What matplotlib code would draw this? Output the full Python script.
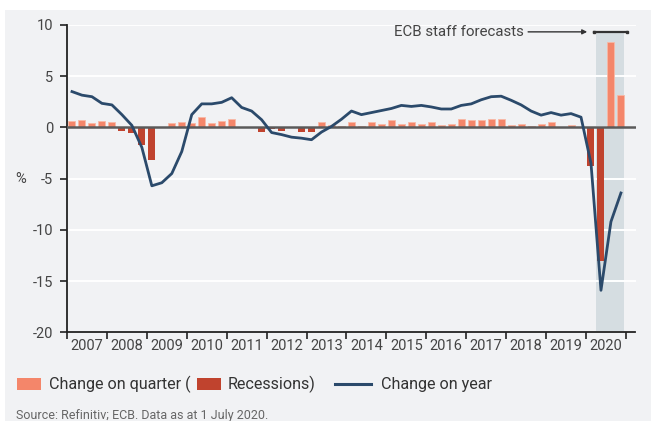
import matplotlib
matplotlib.use("Agg")
import matplotlib.pyplot as plt
from matplotlib.patches import Rectangle
from matplotlib.lines import Line2D
import numpy as np

plt.rcParams['font.family'] = ['Roboto', 'DejaVu Sans']

# ---------------- data ----------------
years = list(range(2007, 2021))
year_labels = [str(y) for y in years]

# quarter-on-quarter change (%), 2007Q1 .. 2020Q4
qoq = [0.6, 0.7, 0.4, 0.6,
       0.5, -0.3, -0.5, -1.7,
       -3.2, -0.05, 0.4, 0.5,
       0.4, 1.0, 0.4, 0.6,
       0.8, 0.0, 0.05, -0.4,
       -0.2, -0.3, -0.1, -0.4,
       -0.4, 0.5, 0.25, 0.15,
       0.5, 0.15, 0.5, 0.35,
       0.7, 0.35, 0.5, 0.35,
       0.55, 0.25, 0.35, 0.8,
       0.7, 0.7, 0.8, 0.8,
       0.25, 0.35, 0.15, 0.35,
       0.5, 0.05, 0.25, 0.02,
       -3.8, -13.0, 8.3, 3.2]

# recession flags per quarter
recession = [0, 0, 0, 0,
             0, 1, 1, 1,
             1, 1, 0, 0,
             0, 0, 0, 0,
             0, 0, 1, 1,
             1, 1, 1, 1,
             1, 0, 0, 0,
             0, 0, 0, 0,
             0, 0, 0, 0,
             0, 0, 0, 0,
             0, 0, 0, 0,
             0, 0, 0, 0,
             0, 0, 0, 0,
             1, 1, 0, 0]

# year-on-year change (%)
yoy = [3.5, 3.15, 3.0, 2.35,
       2.2, 1.25, 0.2, -1.95,
       -5.7, -5.4, -4.5, -2.35,
       1.25, 2.3, 2.3, 2.45,
       2.9, 1.95, 1.6, 0.75,
       -0.5, -0.7, -0.95, -1.05,
       -1.2, -0.45, 0.1, 0.8,
       1.6, 1.25, 1.45, 1.65,
       1.85, 2.15, 2.05, 2.15,
       2.0, 1.8, 1.8, 2.15,
       2.3, 2.7, 3.0, 3.05,
       2.65, 2.2, 1.6, 1.2,
       1.45, 1.2, 1.35, 1.0,
       -3.5, -15.9, -9.2, -6.4]

forecast_start, forecast_end = 2020.25, 2020.95

# ---------------- style ----------------
BG = '#f1f2f4'
LIGHT = '#f4866a'
DARK = '#c0432e'
LINE = '#2b4a6b'
SHADE = '#d5dde1'
TXT = '#444444'

W, H = 651, 421
fig = plt.figure(figsize=(W / 100, H / 100), dpi=100)
fig.patch.set_facecolor('white')
fig.patches.append(Rectangle((5 / W, 0), 1 - 5 / W, 1 - 10 / H,
                             transform=fig.transFigure, facecolor=BG,
                             edgecolor='none', zorder=-10))

ax = fig.add_axes([67 / W, 1 - 332.3 / H, (635.5 - 67) / W, (332.3 - 25) / H])
ax.set_facecolor(BG)

x = np.array([years[0] + 0.125 + 0.25 * i for i in range(len(qoq))])
colors = [DARK if r else LIGHT for r in recession]
edges = ['none' if r else '#f8b9a6' for r in recession]

# forecast shading
ax.axvspan(forecast_start, forecast_end, ymin=0, ymax=(9.3 + 20) / 30,
           color=SHADE, zorder=0.5, lw=0)

for yv in range(-20, 11, 5):
    ax.axhline(yv, color='white', lw=1.4, zorder=0.6)

ax.bar(x, qoq, width=0.175, color=colors, edgecolor=edges, linewidth=0.6,
       zorder=2)
ax.axhline(0, color='#5a5a5a', lw=1.8, zorder=3)
ax.plot(x, yoy, color=LINE, lw=2.0, zorder=4, solid_joinstyle='round')

ax.set_xlim(2007, 2021.24)
ax.set_ylim(-20, 10)

# axes/spines
for s in ['top', 'right']:
    ax.spines[s].set_visible(False)
for s in ['left', 'bottom']:
    ax.spines[s].set_color('#222222')
    ax.spines[s].set_linewidth(1.3)

ax.set_yticks(range(-20, 11, 5))
ax.set_yticklabels([str(v) for v in range(-20, 11, 5)])
ax.tick_params(axis='y', length=5, width=1.2, color='#222222', pad=5,
               labelsize=10.5, labelcolor=TXT)

ax.set_xticks(list(years) + [2021])
ax.set_xticklabels([])
ax.set_xticks([y + 0.5 for y in years], minor=True)
ax.set_xticklabels(year_labels, minor=True)
ax.tick_params(axis='x', which='major', length=5, width=1.2, color='#222222')
ax.tick_params(axis='x', which='minor', length=0, pad=5, labelsize=10.5,
               labelcolor=TXT)

fig.text(21 / W, 1 - 179 / H, '%', fontsize=10.5, color=TXT,
         ha='center', va='center')

# annotation
ax.text(2018.45, 9.33, 'ECB staff forecasts', fontsize=10.8, color=TXT,
        ha='right', va='center')
ax.annotate('', xy=(2020.03, 9.33), xytext=(2018.55, 9.33),
            arrowprops=dict(arrowstyle='-|>', color='#333333', lw=1.0,
                            mutation_scale=7, shrinkA=0, shrinkB=0))
ax.plot([2020.19, 2021.03], [9.28, 9.28], color='#333333', lw=1.6,
        marker='s', markersize=1.8, clip_on=False, zorder=5)

# legend (manual)
ly = 1 - 384 / H
sq_h = 12.5 / H
fig.patches.append(Rectangle((17.3 / W, ly - sq_h / 2), 23.4 / W, sq_h,
                             transform=fig.transFigure, facecolor=LIGHT,
                             edgecolor='none'))
fig.text(49 / W, ly, 'Change on quarter (', fontsize=11.6, color='#333333',
         ha='left', va='center')
fig.patches.append(Rectangle((197 / W, ly - sq_h / 2), 23.7 / W, sq_h,
                             transform=fig.transFigure, facecolor=DARK,
                             edgecolor='none'))
fig.text(228 / W, ly, 'Recessions)', fontsize=11.6, color='#333333',
         ha='left', va='center')
fig.lines.append(Line2D([335 / W, 371 / W], [ly, ly], transform=fig.transFigure,
                        color=LINE, lw=2.2))
fig.text(381 / W, ly, 'Change on year', fontsize=11.6, color='#333333',
         ha='left', va='center')

fig.text(15.7 / W, 1 - 415 / H, 'Source: Refinitiv; ECB. Data as at 1 July 2020.',
         fontsize=9, color='#666666', ha='left', va='center')

fig.savefig('out.png', dpi=100, facecolor=fig.get_facecolor())
